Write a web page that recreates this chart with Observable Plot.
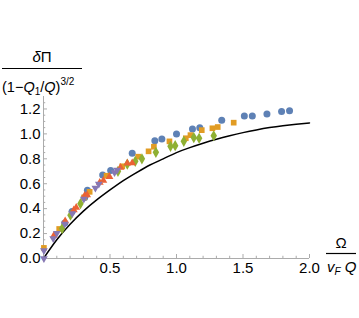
<!DOCTYPE html>
<html>
<head>
<meta charset="utf-8">
<script src="https://cdn.jsdelivr.net/npm/d3@7"></script>
<script src="https://cdn.jsdelivr.net/npm/@observablehq/plot@0.6"></script>
<style>
  html, body { margin: 0; padding: 0; background: #fff; }
  #chart { width: 359px; height: 318px; }
</style>
</head>
<body>
<div id="chart"></div>
<script>
// ---- data ----
const blueX = [0.16, 0.215, 0.31, 0.33, 0.445, 0.505, 0.667, 0.837, 0.89, 1.0, 1.12, 1.175, 1.34, 1.51, 1.57, 1.68, 1.79, 1.85];
const blueY = [0.285, 0.378, 0.49, 0.548, 0.67, 0.706, 0.845, 0.944, 0.958, 1.0, 1.04, 1.05, 1.11, 1.144, 1.144, 1.16, 1.18, 1.185];

const orangeX = [0.003, 0.118, 0.305, 0.347, 0.474, 0.592, 0.712, 0.79, 0.83, 0.947, 1.07, 1.105, 1.19, 1.27, 1.31, 1.43];
const orangeY = [0.085, 0.237, 0.49, 0.535, 0.664, 0.74, 0.817, 0.86, 0.897, 0.94, 0.965, 0.99, 1.03, 1.045, 1.055, 1.09];

const greenX = [0.14, 0.203, 0.278, 0.56, 0.63, 0.69, 0.74, 0.845, 0.955, 0.99, 1.055, 1.13, 1.17, 1.28];
const greenY = [0.24, 0.347, 0.44, 0.70, 0.757, 0.78, 0.80, 0.852, 0.90, 0.905, 0.94, 0.97, 0.965, 0.985];

const redX = [0.078, 0.163, 0.228, 0.246, 0.31, 0.328, 0.423, 0.45, 0.496, 0.579, 0.63, 0.667];
const redY = [0.184, 0.30, 0.39, 0.41, 0.505, 0.51, 0.61, 0.625, 0.657, 0.73, 0.764, 0.767];

const purpleX = [0.003, 0.003, 0.073, 0.10, 0.16, 0.216, 0.303, 0.39, 0.416, 0.534, 0.554];
const purpleY = [0.0, 0.065, 0.16, 0.203, 0.277, 0.362, 0.477, 0.565, 0.597, 0.69, 0.71];

const curveX = [0, 0.1, 0.2, 0.3, 0.4, 0.5, 0.6, 0.7, 0.8, 0.9, 1.0, 1.1, 1.2, 1.3, 1.4, 1.5, 1.6, 1.7, 1.8, 1.9, 2.0];
const curveY = [0, 0.15, 0.275, 0.38, 0.47, 0.55, 0.625, 0.69, 0.75, 0.80, 0.85, 0.89, 0.925, 0.957, 0.985, 1.01, 1.032, 1.051, 1.066, 1.078, 1.088];

const xTickLabels = [0.5, 1.0, 1.5, 2.0];
const yTickLabels = [0, 0.2, 0.4, 0.6, 0.8, 1.0, 1.2];

// ---- helpers ----
const pts = (xs, ys) => xs.map((x, i) => ({x, y: ys[i]}));
const C = {blue: "#5E81B5", orange: "#E19C24", green: "#8FB032", red: "#EB6235", purple: "#8778B3"};
const axisColor = "#ababab";

const xMajor = d3.range(0, 2.0001, 0.5);
const xMinor = d3.range(0, 2.0001, 0.1).filter(v => Math.abs(v / 0.5 - Math.round(v / 0.5)) > 1e-6);
const yMajor = d3.range(0, 1.2001, 0.2);
const yMinor = d3.range(0, 1.2801, 0.05).filter(v => Math.abs(v / 0.2 - Math.round(v / 0.2)) > 1e-6);

const chart = Plot.plot({
  width: 359,
  height: 318,
  marginLeft: 43,
  marginRight: 50,
  marginTop: 96,
  marginBottom: 60,
  style: {fontFamily: "'Liberation Sans', Arial, sans-serif", fontSize: "15px", background: "#fff", color: "#000", overflow: "visible"},
  x: {domain: [0, 2]},
  y: {domain: [0, 1.3]},
  marks: [
    Plot.ruleY([0], {stroke: axisColor, strokeWidth: 1}),
    Plot.ruleX([0], {stroke: axisColor, strokeWidth: 1}),
    Plot.ruleX(xMajor, {y1: 0, y2: 0.032, stroke: axisColor}),
    Plot.ruleX(xMinor, {y1: 0, y2: 0.018, stroke: axisColor}),
    Plot.ruleY(yMajor, {x1: 0, x2: 0.03, stroke: axisColor}),
    Plot.ruleY(yMinor, {x1: 0, x2: 0.017, stroke: axisColor}),
    Plot.axisX({ticks: xTickLabels, tickSize: 0, tickPadding: 4, tickFormat: d3.format(".1f"), label: null, fontSize: 15}),
    Plot.axisY({ticks: yTickLabels, tickSize: 0, tickPadding: 3, tickFormat: d3.format(".1f"), label: null, fontSize: 15}),
    Plot.line(pts(curveX, curveY), {x: "x", y: "y", stroke: "#000", strokeWidth: 1.5, curve: "natural"}),
    Plot.dot(pts(blueX, blueY), {x: "x", y: "y", symbol: "circle", fill: C.blue, r: 3.5}),
    Plot.dot(pts(orangeX, orangeY), {x: "x", y: "y", symbol: "square", fill: C.orange, r: 3.2}),
    Plot.dot(pts(greenX, greenY), {x: "x", y: "y", symbol: "diamond", fill: C.green, r: 3.4}),
    Plot.dot(pts(redX, redY), {x: "x", y: "y", symbol: "triangle", fill: C.red, r: 2.9}),
    Plot.dot(pts(purpleX, purpleY), {x: "x", y: "y", symbol: "triangle", rotate: 180, fill: C.purple, r: 2.9})
  ]
});

document.getElementById("chart").appendChild(chart);

// ---- axis labels (fractions) ----
const svg = d3.select(chart);
const FF = "'Liberation Sans', Arial, sans-serif";

const yl = svg.append("g").attr("font-family", FF).attr("fill", "#000");
yl.append("text").attr("x", 42).attr("y", 62).attr("text-anchor", "middle").attr("font-size", 15)
  .call(t => { t.append("tspan").attr("font-style", "italic").text("δ"); t.append("tspan").text("Π"); });
yl.append("line").attr("x1", 2).attr("x2", 82).attr("y1", 68.5).attr("y2", 68.5).attr("stroke", "#000").attr("stroke-width", 1.2);
yl.append("text").attr("x", 2).attr("y", 92).attr("text-anchor", "start").attr("font-size", 14.5)
  .call(t => {
    t.append("tspan").text("(1\u2212");
    t.append("tspan").attr("font-style", "italic").text("Q");
    t.append("tspan").attr("font-size", 10).attr("dy", 3).text("1");
    t.append("tspan").attr("dy", -3).text("/");
    t.append("tspan").attr("font-style", "italic").text("Q");
    t.append("tspan").text(")");
    t.append("tspan").attr("font-size", 10).attr("dy", -7).text("3/2");
  });

const xl = svg.append("g").attr("font-family", FF).attr("fill", "#000");
xl.append("text").attr("x", 341).attr("y", 248).attr("text-anchor", "middle").attr("font-size", 15).text("Ω");
xl.append("line").attr("x1", 326).attr("x2", 356).attr("y1", 253.5).attr("y2", 253.5).attr("stroke", "#000").attr("stroke-width", 1.2);
xl.append("text").attr("x", 327).attr("y", 272).attr("text-anchor", "start").attr("font-size", 15)
  .call(t => {
    t.append("tspan").attr("font-style", "italic").text("v");
    t.append("tspan").attr("font-style", "italic").attr("font-size", 10).attr("dy", 3).text("F");
    t.append("tspan").attr("dy", -3).text(" ");
    t.append("tspan").attr("font-style", "italic").text("Q");
  });
</script>
</body>
</html>
